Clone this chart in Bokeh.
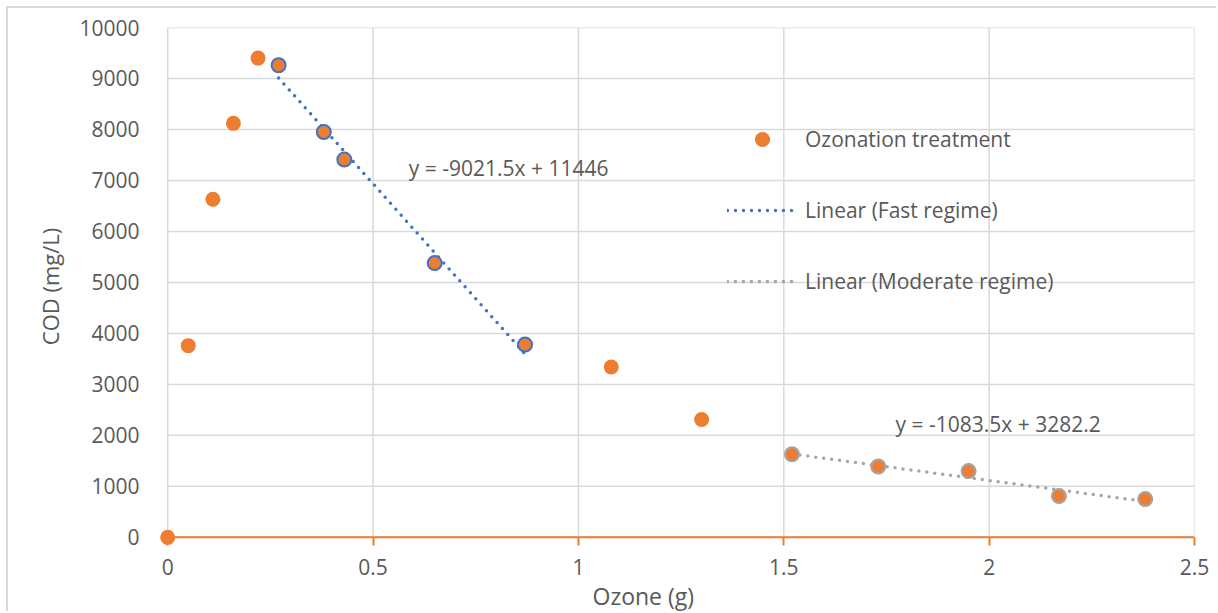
from bokeh.plotting import figure
from bokeh.models import FixedTicker, Legend, LegendItem, Label, Title
from bokeh.embed import file_html
from bokeh.resources import INLINE

# Measured COD against applied ozone
ozone = [0, 0.05, 0.11, 0.16, 0.22, 0.27, 0.38, 0.43, 0.65, 0.87,
         1.08, 1.30, 1.52, 1.73, 1.95, 2.17, 2.38]
cod = [0, 3760, 6630, 8120, 9400, 9260, 7950, 7410, 5380, 3780,
       3340, 2310, 1630, 1390, 1300, 810, 750]

# Points belonging to each linear regime
fast_ozone = [0.27, 0.38, 0.43, 0.65, 0.87]
fast_cod = [9260, 7950, 7410, 5380, 3780]
moderate_ozone = [1.52, 1.73, 1.95, 2.17, 2.38]
moderate_cod = [1630, 1390, 1300, 810, 750]

# Fitted trendlines
fast_slope, fast_intercept = -9021.5, 11446
moderate_slope, moderate_intercept = -1083.5, 3282.2

x_ticks = [0, 0.5, 1, 1.5, 2, 2.5]
x_tick_labels = ["0", "0.5", "1", "1.5", "2", "2.5"]
y_ticks = list(range(0, 10001, 1000))
x_min, x_max = 0, 2.5
y_min, y_max = 0, 10000

FONT = "Open Sans"
TEXT = "#595959"
ORANGE = "#ED7D31"
BLUE = "#4472C4"
GRAY = "#A5A5A5"
GRID = "#D9D9D9"
FS = "21px"

# A little room below/left of the origin so the marker at (0, 0) is not clipped
p = figure(width=1210, height=605, x_range=(-0.02, 2.5), y_range=(-160, 10000),
           output_backend="svg", toolbar_location=None,
           min_border_left=151, min_border_right=24, min_border_top=19,
           min_border_bottom=68)
p.margin = (6, 0, 0, 6)
p.styles = {"border-left": "2px solid #D9D9D9", "border-top": "2px solid #D9D9D9"}
p.outline_line_color = None
p.background_fill_color = "white"
p.border_fill_color = "white"
p.xgrid.grid_line_color = None
p.ygrid.grid_line_color = None

p.xaxis.ticker = FixedTicker(ticks=x_ticks)
p.xaxis.major_label_overrides = {t: l for t, l in zip(x_ticks, x_tick_labels)}
p.yaxis.ticker = FixedTicker(ticks=y_ticks)
p.xaxis.minor_tick_line_color = None
p.yaxis.minor_tick_line_color = None
p.yaxis.major_tick_line_color = None
p.yaxis.axis_line_color = None
p.xaxis.axis_line_color = None
p.xaxis.major_tick_line_color = ORANGE
p.xaxis.major_tick_line_width = 2
p.xaxis.major_tick_out = 0
p.xaxis.major_tick_in = 8
for ax in (p.xaxis, p.yaxis):
    ax.major_label_text_font = FONT
    ax.major_label_text_font_size = FS
    ax.major_label_text_color = TEXT
p.yaxis.major_label_standoff = 14
p.xaxis.major_label_standoff = 13

p.yaxis.axis_label = "COD (mg/L)"
p.yaxis.axis_label_text_font = FONT
p.yaxis.axis_label_text_font_size = "22px"
p.yaxis.axis_label_text_font_style = "normal"
p.yaxis.axis_label_text_color = TEXT
p.yaxis.axis_label_standoff = 11

# Gridlines spanning the data area only
p.segment(x0=x_min, x1=x_max, y0=y_ticks, y1=y_ticks, line_color=GRID, line_width=1.5)
p.segment(x0=x_ticks, x1=x_ticks, y0=y_min, y1=y_max, line_color=GRID, line_width=1.5)
# Horizontal axis line
p.line([x_min, x_max], [0, 0], line_color=ORANGE, line_width=2)

# Round-dotted trendlines
fx = [fast_ozone[0], fast_ozone[-1]]
fy = [fast_slope * v + fast_intercept for v in fx]
mx = [moderate_ozone[0], moderate_ozone[-1]]
my = [moderate_slope * v + moderate_intercept for v in mx]
fast_line = p.line(fx, fy, line_color=BLUE, line_width=3.5, line_dash="0 8",
                   line_cap="round")
mod_line = p.line(mx, my, line_color=GRAY, line_width=3.5, line_dash="0 8",
                  line_cap="round")

# Data points
pts = p.scatter(ozone, cod, size=15, fill_color=ORANGE, line_color=None)
p.scatter(fast_ozone, fast_cod, size=14, fill_color=ORANGE, line_color=BLUE, line_width=2)
p.scatter(moderate_ozone, moderate_cod, size=14, fill_color=ORANGE, line_color=GRAY, line_width=2)

# Trendline equations
p.add_layout(Label(x=0.587, y=7235, text="y = -9021.5x + 11446", text_font=FONT,
                   text_font_size=FS, text_color=TEXT, text_baseline="middle"))
p.add_layout(Label(x=1.772, y=2216, text="y = -1083.5x + 3282.2", text_font=FONT,
                   text_font_size=FS, text_color=TEXT, text_baseline="middle"))

# X axis title
p.add_layout(Title(text="Ozone (g)", align="left", offset=433, text_font=FONT,
                   text_font_size="23px", text_font_style="normal", text_color=TEXT,
                   standoff=0), "below")

legend = Legend(items=[
    LegendItem(label="Ozonation treatment", renderers=[pts]),
    LegendItem(label="Linear (Fast regime)", renderers=[fast_line]),
    LegendItem(label="Linear (Moderate regime)", renderers=[mod_line]),
], location=(568, 245), orientation="vertical")
legend.background_fill_alpha = 0
legend.border_line_color = None
legend.padding = 0
legend.margin = 0
legend.spacing = 33
legend.glyph_width = 70
legend.glyph_height = 38
legend.label_height = 38
legend.label_standoff = 8
legend.label_text_font = FONT
legend.label_text_font_size = FS
legend.label_text_color = TEXT
p.add_layout(legend)

open("out.html", "w").write(file_html(p, INLINE))
